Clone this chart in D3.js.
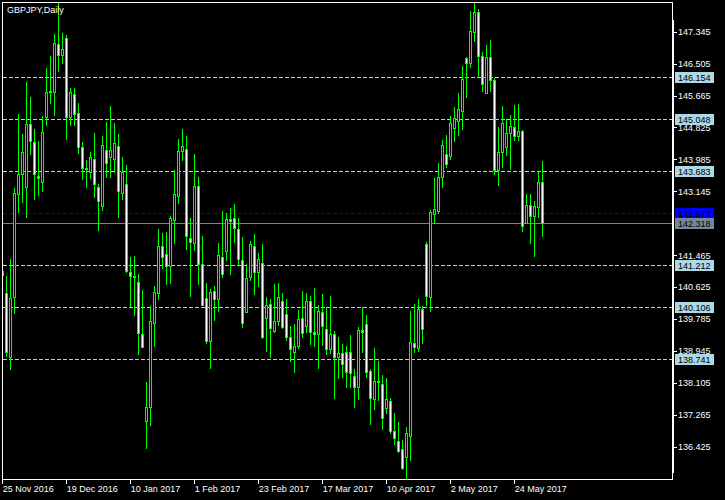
<!DOCTYPE html>
<html><head><meta charset="utf-8">
<script src="https://cdn.jsdelivr.net/npm/d3@7"></script>
<style>html,body{margin:0;padding:0;background:#000;}svg{display:block}</style>
</head><body>
<script>
// GBPJPY Daily, 25 Nov 2016 .. 2 Jun 2017 (one bar per weekday)
const open = [140.94,140.47,138.79,140.37,143.08,143.60,143.26,144.92,144.44,143.55,
143.39,145.10,145.76,145.76,147.02,146.73,147.18,145.10,145.71,145.21,
144.31,143.76,143.65,143.99,143.26,142.76,144.23,144.05,143.99,144.34,
143.10,143.34,141.02,140.92,140.76,139.39,137.10,137.47,139.68,140.47,
141.71,141.50,141.18,142.39,143.02,144.21,144.26,141.92,141.79,143.29,
141.23,140.34,139.21,140.52,140.31,141.42,141.58,142.42,142.44,142.15,
141.34,139.97,140.89,141.71,141.02,141.26,139.81,140.18,139.47,139.73,
140.26,139.92,139.31,138.92,139.08,139.81,139.60,140.26,139.44,139.39,
139.97,139.52,139.00,139.39,138.79,138.89,138.92,138.92,138.29,138.00,
139.50,139.65,138.42,137.68,138.16,138.08,137.44,137.63,136.84,136.58,
136.37,136.16,136.71,139.15,139.02,140.05,141.76,140.37,142.55,142.63,
143.52,144.13,144.07,144.81,145.00,145.26,146.65,146.52,147.34,147.86,
146.71,145.73,146.68,146.07,143.71,144.18,144.31,144.68,144.84,144.60,
144.73,142.31,142.78,142.50,142.73,143.39];
const high = [141.21,140.92,141.36,143.23,145.18,144.65,146.02,145.63,144.78,144.47,
145.13,146.39,146.71,147.29,148.13,147.31,147.26,145.86,145.86,145.47,
144.44,143.97,144.18,144.68,143.34,144.60,144.97,145.39,144.94,144.65,
144.05,143.84,141.42,141.44,140.97,140.55,138.13,140.13,140.65,142.15,
142.05,142.07,142.50,143.71,144.52,144.78,144.60,142.44,144.13,143.52,
141.97,140.73,140.58,140.65,141.79,142.63,142.57,142.71,142.81,142.44,
141.94,141.23,141.84,142.02,141.52,141.76,140.37,140.31,140.71,140.73,
140.47,140.31,139.60,139.65,140.02,140.52,140.47,140.39,140.60,140.15,
140.44,140.10,140.39,139.47,139.31,139.13,139.08,139.36,138.47,139.58,
140.10,139.89,138.47,139.02,138.68,138.31,138.23,137.71,137.31,137.08,
136.60,136.94,140.00,140.18,140.31,140.13,141.81,142.65,143.50,143.89,
144.50,144.63,145.13,145.36,145.73,146.44,146.68,147.89,148.10,147.94,
146.81,146.99,147.13,146.12,144.84,145.39,145.05,145.15,145.42,145.44,
144.76,143.08,143.08,142.89,143.68,143.94];
const low = [140.68,138.81,138.47,139.94,142.60,142.86,142.47,144.13,142.94,143.05,
143.15,144.89,145.47,145.15,146.31,146.52,144.52,144.89,144.89,144.15,
143.47,143.26,143.50,143.00,142.13,142.65,143.52,143.52,143.65,142.47,
142.94,141.02,140.13,139.89,138.87,139.05,136.39,137.00,139.08,140.31,
141.13,140.71,140.73,141.79,142.84,143.97,141.63,140.39,141.60,140.71,
140.15,139.15,138.50,139.76,140.00,140.89,141.34,140.97,141.81,141.23,
139.58,139.97,140.81,140.44,140.65,139.29,138.94,138.79,139.44,139.63,
139.55,139.23,138.68,138.39,139.02,139.31,139.44,139.13,139.08,138.50,
139.10,138.87,138.89,137.71,138.23,138.26,138.00,138.00,137.47,137.68,
138.92,138.26,137.02,137.42,137.65,136.89,137.31,136.79,136.50,136.29,
135.84,135.58,136.08,138.92,138.94,139.15,140.15,140.00,142.31,142.57,
143.26,143.79,143.99,144.47,144.63,144.78,145.63,146.42,147.10,146.15,
145.79,145.73,145.79,143.60,143.31,143.79,144.10,143.73,144.50,144.50,
142.10,142.31,141.79,141.44,142.47,141.97];
const close = [141.05,138.92,140.34,143.10,143.60,144.18,144.92,144.47,143.60,143.50,
144.71,145.76,145.79,147.05,146.73,146.89,145.10,145.76,145.18,144.31,
143.76,143.73,144.05,143.34,142.89,144.36,143.89,144.23,144.42,143.15,
143.65,141.05,140.92,140.89,139.42,139.05,137.47,139.73,140.50,141.71,
141.42,141.18,142.44,143.08,144.21,144.34,141.97,141.81,143.29,141.23,
140.15,139.21,140.50,140.31,141.47,140.97,142.42,142.36,142.18,141.36,
139.68,140.86,141.76,141.02,141.36,139.31,140.15,139.55,139.73,140.37,
139.58,139.31,139.00,139.08,139.79,139.42,140.26,139.44,139.39,140.00,
139.60,139.00,139.39,138.79,138.89,138.60,138.39,138.37,138.00,139.50,
139.44,138.39,137.71,138.16,138.13,137.18,137.68,136.84,136.65,136.31,
135.87,136.79,139.18,139.05,140.05,139.52,140.39,142.60,142.68,143.52,
144.36,143.86,144.94,145.07,145.31,146.10,146.52,147.36,147.86,146.71,
145.97,146.68,146.07,143.71,144.18,144.94,144.68,144.86,144.60,144.73,
142.23,142.78,142.50,142.76,143.39,142.31];

const xTickIndex = [0,16,32,48,64,80,96,112,128];
const xTickLabels = ["25 Nov 2016","19 Dec 2016","10 Jan 2017","1 Feb 2017","23 Feb 2017","17 Mar 2017","10 Apr 2017","2 May 2017","24 May 2017"];
const yTickValues = [147.345,146.505,145.665,144.825,143.985,143.145,141.465,140.625,139.785,138.945,138.105,137.265,136.425];
const levelLines = [146.154,145.048,143.683,141.212,140.106,138.741];
const askLevel = 142.577;
const bidLevel = 142.318;
const chartTitle = "GBPJPY,Daily";

const W = 725, H = 500;
const FONT = "'Liberation Sans', Arial, sans-serif";
const svg = d3.select("body").append("svg").attr("width", W).attr("height", H)
  .style("background", "#000");

const x = d3.scaleLinear().domain([0, 135]).range([2, 542]);
const y = d3.scaleLinear().domain([147.345, 136.425]).range([31.7, 446.7]);
const R = v => Math.round(y(v));

svg.append("defs").append("clipPath").attr("id", "plot")
  .append("rect").attr("x", 3).attr("y", 3).attr("width", 669).attr("height", 476);

const plot = svg.append("g").attr("clip-path", "url(#plot)").attr("shape-rendering", "crispEdges");

// horizontal level lines
plot.selectAll("line.lvl").data(levelLines).join("line").attr("class", "lvl")
  .attr("x1", 3).attr("x2", 672).attr("y1", d => R(d) + 0.5).attr("y2", d => R(d) + 0.5)
  .attr("stroke", "#ADD8E6").attr("stroke-dasharray", "4,2");
plot.append("line").attr("x1", 3).attr("x2", 672)
  .attr("y1", R(askLevel) + 0.5).attr("y2", R(askLevel) + 0.5)
  .attr("stroke", "#0000FF").attr("stroke-dasharray", "4,2");
plot.append("line").attr("x1", 3).attr("x2", 672)
  .attr("y1", R(bidLevel) + 0.5).attr("y2", R(bidLevel) + 0.5)
  .attr("stroke", "#778899");

// candles
const idx = d3.range(open.length);
const cg = plot.selectAll("g.c").data(idx).join("g").attr("class", "c");
cg.append("rect")
  .attr("x", i => Math.round(x(i))).attr("width", 1)
  .attr("y", i => R(high[i])).attr("height", i => R(low[i]) - R(high[i]) + 1)
  .attr("fill", "#00FF00");
cg.append("rect")
  .attr("x", i => Math.round(x(i)) - 1).attr("width", 3)
  .attr("y", i => R(Math.max(open[i], close[i])))
  .attr("height", i => R(Math.min(open[i], close[i])) - R(Math.max(open[i], close[i])) + 1)
  .attr("fill", "#00FF00");
cg.filter(i => R(Math.min(open[i], close[i])) - R(Math.max(open[i], close[i])) >= 2)
  .append("rect")
  .attr("x", i => Math.round(x(i))).attr("width", 1)
  .attr("y", i => R(Math.max(open[i], close[i])) + 1)
  .attr("height", i => R(Math.min(open[i], close[i])) - R(Math.max(open[i], close[i])) - 1)
  .attr("fill", i => close[i] < open[i] ? "#FFFFFF" : "#000000");

// frame
const frame = svg.append("g").attr("shape-rendering", "crispEdges").attr("stroke", "#fff");
frame.append("line").attr("x1", 2).attr("x2", 673).attr("y1", 2.5).attr("y2", 2.5);
frame.append("line").attr("x1", 2.5).attr("x2", 2.5).attr("y1", 2).attr("y2", 480);
frame.append("line").attr("x1", 672.5).attr("x2", 672.5).attr("y1", 2).attr("y2", 480);
frame.append("line").attr("x1", 673.5).attr("x2", 673.5).attr("y1", 20).attr("y2", 473);
frame.append("line").attr("x1", 2).attr("x2", 673).attr("y1", 479.5).attr("y2", 479.5);

// price axis
const yAxis = d3.axisRight(y).tickValues(yTickValues).tickSize(4).tickPadding(1)
  .tickFormat(d3.format(".3f"));
const ya = svg.append("g").attr("transform", "translate(673,0)").call(yAxis);
ya.select(".domain").remove();
ya.selectAll("line").attr("stroke", "#fff").attr("shape-rendering", "crispEdges");
ya.selectAll("text").attr("fill", "#fff").style("font-family", FONT).style("font-size", "9px");

// level boxes
function box(v, bg) {
  const r = R(v);
  svg.append("rect").attr("x", 675).attr("y", r - 5).attr("width", 39).attr("height", 11)
    .attr("fill", bg).attr("shape-rendering", "crispEdges");
  svg.append("text").attr("x", 678).attr("y", r + 3.8).text(v.toFixed(3))
    .attr("fill", "#000").style("font-family", FONT).style("font-size", "9px");
}
levelLines.forEach(v => box(v, "#ADD8E6"));
box(askLevel, "#0000FF");
box(bidLevel, "#778899");

// time axis
const xAxis = d3.axisBottom(x).tickValues(xTickIndex).tickSize(4).tickPadding(2)
  .tickFormat((d, i) => xTickLabels[i]);
const xa = svg.append("g").attr("transform", "translate(0,480)").call(xAxis);
xa.select(".domain").remove();
xa.selectAll("line").attr("stroke", "#fff").attr("shape-rendering", "crispEdges");
xa.selectAll("text").attr("fill", "#fff").attr("text-anchor", "start").attr("dx", "0.3")
  .style("font-family", FONT).style("font-size", "9px");

// title
svg.append("text").attr("x", 7).attr("y", 13).text(chartTitle)
  .attr("fill", "#fff").style("font-family", FONT).style("font-size", "9px");
</script>
</body></html>
